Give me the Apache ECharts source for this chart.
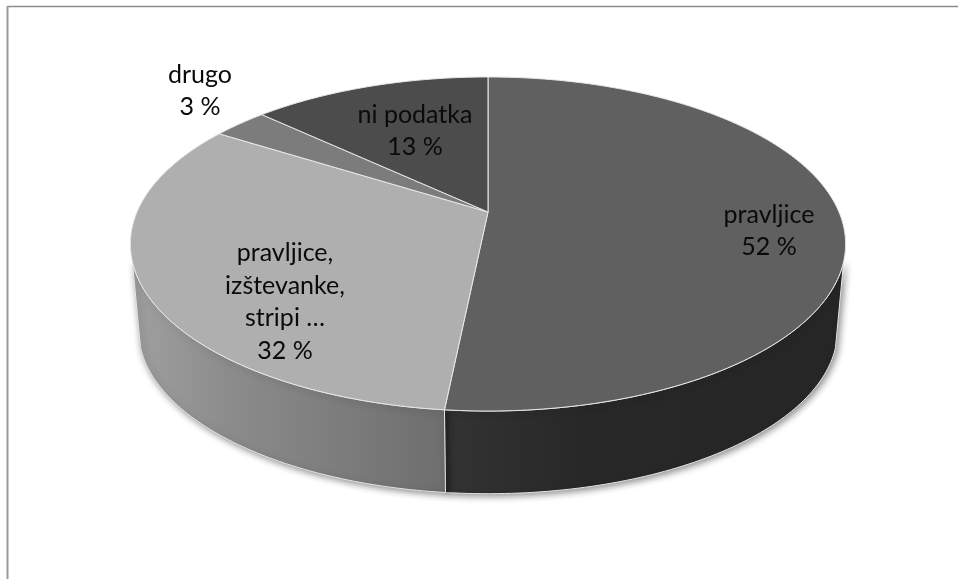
<!DOCTYPE html>
<html><head><meta charset="utf-8">
<style>html,body{margin:0;padding:0;background:#fff}#c{width:958px;height:579px}</style>
<script src="https://cdn.jsdelivr.net/npm/echarts@6/dist/echarts.min.js"></script>
</head><body><div id="c"></div>
<script>
// Data
const categories = ['pravljice', 'pravljice,\nizštevanke,\nstripi …', 'drugo', 'ni podatka'];
const values = [51.6, 32.4, 3, 13];
const valueLabels = ['52 %', '32 %', '3 %', '13 %'];

// Styles
const topColors = ['#606060', '#afafaf', '#7c7c7c', '#4c4c4c'];
const sideColors = [
  {type:'linear',x:0,y:0,x2:1,y2:0,colorStops:[{offset:0,color:'#333333'},{offset:0.35,color:'#282828'},{offset:1,color:'#262626'}]},
  {type:'linear',x:0,y:0,x2:1,y2:0,colorStops:[{offset:0,color:'#a0a0a0'},{offset:0.3,color:'#8c8c8c'},{offset:1,color:'#6e6e6e'}]}
];
const labelCenters = [[769,231],[285,302],[200,91],[415,131]];

// Perspective projection of the disc
const CX = 488, P = 0.1916;
const TOP = {y0:212, R:351, K:160.9};
const BOT = {y0:299, R:343, K:157.4};
const VIS_START = 107, VIS_END = 253; // visible wall, degrees clockwise from 12 o'clock
function proj(f, deg){
  const t = deg*Math.PI/180, u = Math.sin(t), v = -Math.cos(t), w = 1 - P*v;
  return [CX + f.R*u/w, f.y0 + f.K*v/w];
}
function arc(f, a, b){
  const pts = [], n = Math.max(2, Math.ceil(Math.abs(b-a)));
  for(let i=0;i<=n;i++) pts.push(proj(f, a+(b-a)*i/n));
  return pts;
}
const total = values.reduce((s,v)=>s+v,0);
function range(i){
  let s = 0; for(let k=0;k<i;k++) s += values[k];
  return [s/total*360, (s+values[i])/total*360];
}
const dataItems = categories.map((c,i)=>({name:c, value:values[i]}));

const chart = echarts.init(document.getElementById('c'), null, {renderer:'canvas'});
chart.setOption({
  animation:false,
  backgroundColor:'#ffffff',
  graphic:[
    {type:'line',shape:{x1:7.5,y1:6.5,x2:958,y2:6.5},style:{stroke:'#8c8c8c',lineWidth:1.5},silent:true},
    {type:'line',shape:{x1:7.5,y1:6,x2:7.5,y2:579},style:{stroke:'#9a9a9a',lineWidth:2},silent:true}
  ],
  series:[
    { // walls
      type:'custom', coordinateSystem:'none', silent:true, z:1, clip:false, data:dataItems,
      renderItem(params){
        const i = params.dataIndex, [a0,b0] = range(i);
        const a = Math.max(a0,VIS_START), b = Math.min(b0,VIS_END);
        if(b<=a) return {type:'group',children:[]};
        const pts = arc(TOP,a,b).concat(arc(BOT,b,a));
        return {type:'polygon',shape:{points:pts},style:{fill:sideColors[i],stroke:'#e4e4e4',lineWidth:1,
          shadowBlur:7,shadowColor:'rgba(0,0,0,0.45)',shadowOffsetX:2,shadowOffsetY:2}};
      }
    },
    { // top face
      type:'custom', coordinateSystem:'none', silent:true, z:2, clip:false, data:dataItems,
      renderItem(params){
        const i = params.dataIndex, [a,b] = range(i);
        const pts = [[CX,TOP.y0]].concat(arc(TOP,a,b));
        return {type:'polygon',shape:{points:pts},style:{fill:topColors[i],stroke:'#e8e8e8',lineWidth:1}};
      }
    },
    { // labels
      type:'custom', coordinateSystem:'none', silent:true, z:3, clip:false, data:dataItems,
      renderItem(params){
        const i = params.dataIndex;
        return {type:'text',style:{text:categories[i]+'\n'+valueLabels[i],x:labelCenters[i][0],y:labelCenters[i][1],
          align:'center',verticalAlign:'middle',fill:'#0a0a0a',font:'25px Lato',lineHeight:32.5}};
      }
    }
  ]
});
</script></body></html>
